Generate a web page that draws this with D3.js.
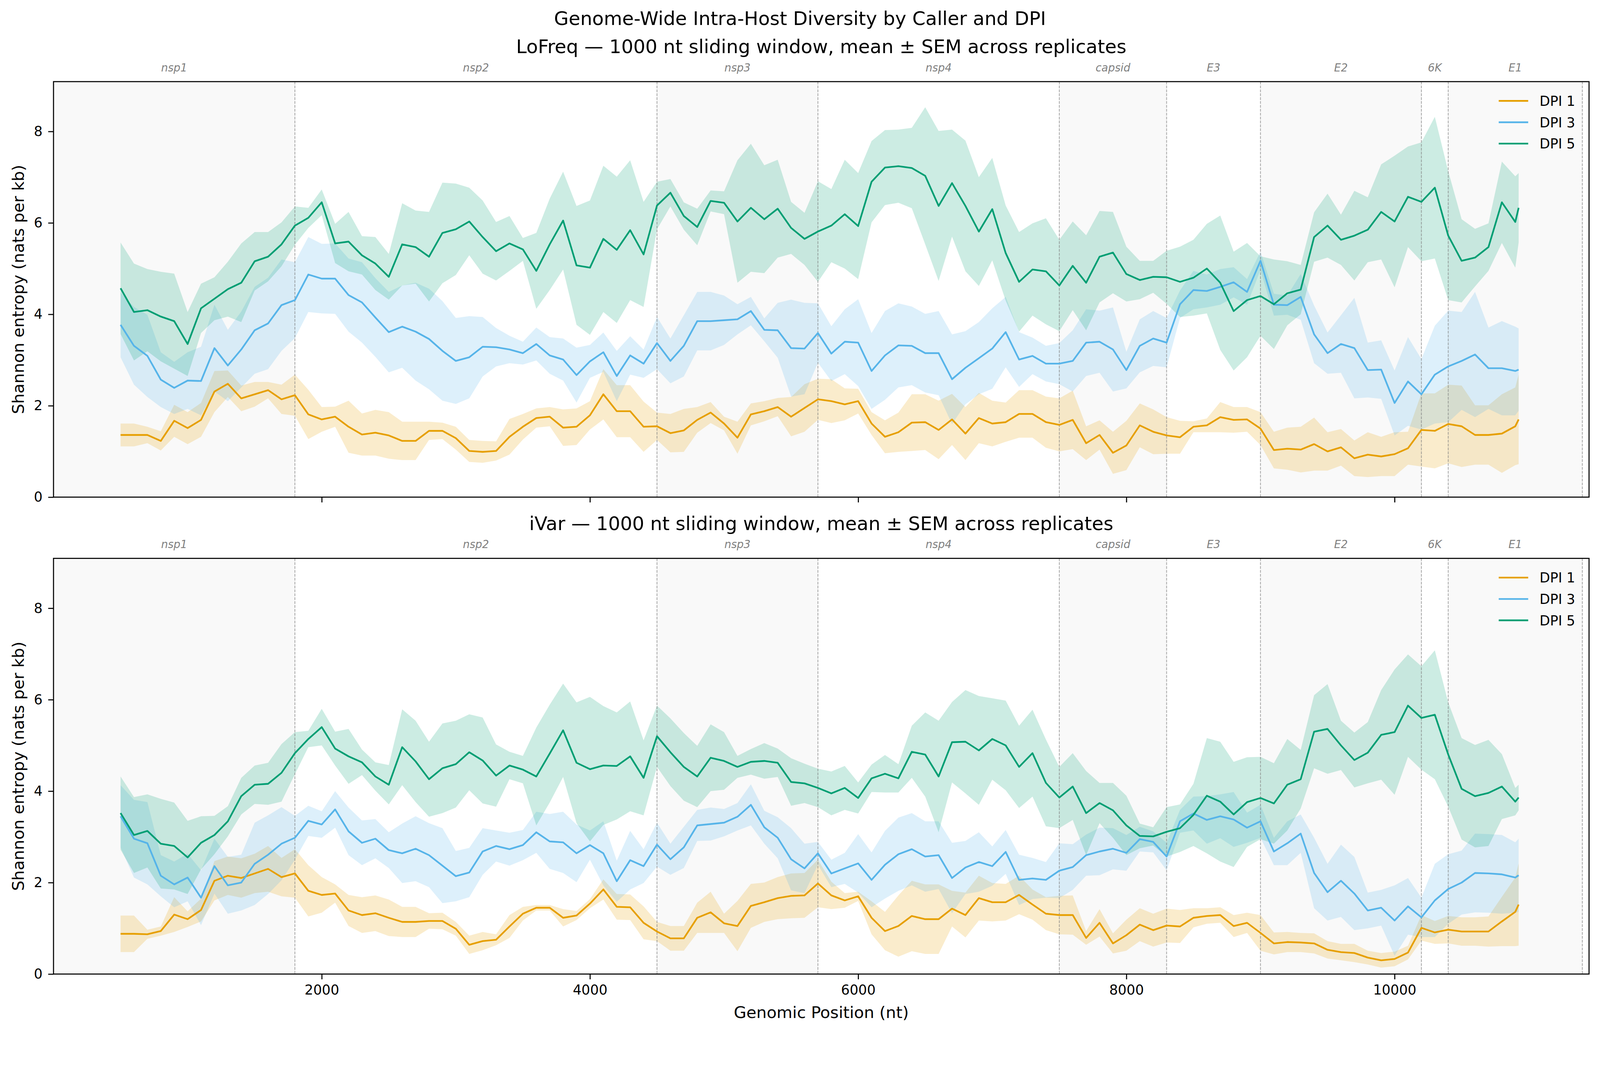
<!DOCTYPE html>
<html>
<head>
<meta charset="utf-8">
<title>Genome-Wide Intra-Host Diversity by Caller and DPI</title>
<script src="https://cdn.jsdelivr.net/npm/d3@7"></script>
<style>
  html, body { margin: 0; padding: 0; background: #ffffff; overflow: hidden; }
  svg { display: block; width: 100vw; height: 100vh; font-family: "DejaVu Sans", sans-serif; }
</style>
</head>
<body>
<div id="chart"></div>
<script>
// window centres along the genome (nt)
var positions = d3.range(500, 10901, 100).concat([10925]);

var geneNames  = ["nsp1", "nsp2", "nsp3", "nsp4", "capsid", "E3", "E2", "6K", "E1"];
var geneStarts = [0, 1800, 4500, 5700, 7500, 8300, 9000, 10200, 10400];
var geneEnds   = [1800, 4500, 5700, 7500, 8300, 9000, 10200, 10400, 11400];
var genomeLength = 11450;

var dpiLabels = ["DPI 1", "DPI 3", "DPI 5"];
var dpiColors = ["#E69F00", "#56B4E9", "#009E73"];

var xTicks = [2000, 4000, 6000, 8000, 10000];
var yTicks = [0, 2, 4, 6, 8];
var yMax = 9.09;

// LoFreq, mean entropy per window
var lofreqDpi1 = [1.36,1.36,1.36,1.23,1.67,1.51,1.69,2.31,2.48,2.16,
  2.25,2.34,2.14,2.23,1.81,1.7,1.76,1.54,1.37,1.41,
  1.35,1.23,1.23,1.45,1.45,1.29,1.01,0.99,1.01,1.32,
  1.54,1.73,1.76,1.52,1.54,1.79,2.25,1.88,1.88,1.54,
  1.55,1.4,1.46,1.69,1.85,1.61,1.3,1.81,1.88,1.97,
  1.76,1.95,2.14,2.1,2.03,2.1,1.61,1.32,1.42,1.63,
  1.64,1.47,1.7,1.39,1.73,1.61,1.64,1.82,1.82,1.64,
  1.58,1.69,1.18,1.36,0.97,1.13,1.57,1.43,1.35,1.31,
  1.54,1.57,1.75,1.69,1.7,1.5,1.03,1.06,1.04,1.16,
  1.0,1.09,0.85,0.93,0.89,0.94,1.07,1.47,1.45,1.6,
  1.55,1.36,1.36,1.39,1.55,1.7];
var lofreqDpi1Sem = [0.25,0.25,0.18,0.21,0.35,0.35,0.37,0.45,0.29,0.28,
  0.27,0.18,0.32,0.45,0.54,0.27,0.22,0.57,0.46,0.5,
  0.51,0.42,0.42,0.2,0.18,0.25,0.24,0.24,0.21,0.39,
  0.28,0.21,0.21,0.4,0.4,0.31,0.55,0.57,0.57,0.55,
  0.3,0.42,0.47,0.28,0.23,0.15,0.35,0.24,0.22,0.2,
  0.43,0.52,0.45,0.48,0.35,0.27,0.25,0.36,0.43,0.62,
  0.61,0.64,0.56,0.58,0.55,0.5,0.43,0.52,0.52,0.56,
  0.58,0.64,0.37,0.32,0.46,0.54,0.48,0.49,0.4,0.36,
  0.12,0.15,0.33,0.28,0.27,0.36,0.4,0.46,0.5,0.58,
  0.42,0.4,0.39,0.49,0.43,0.48,0.36,0.8,0.82,0.86,
  0.89,0.65,0.65,0.86,0.85,0.98];
var lofreqDpi3 = [3.77,3.31,3.09,2.57,2.39,2.55,2.54,3.26,2.88,3.23,
  3.65,3.8,4.2,4.31,4.87,4.78,4.78,4.42,4.26,3.93,
  3.61,3.73,3.62,3.46,3.2,2.98,3.06,3.29,3.28,3.23,
  3.15,3.35,3.1,3.01,2.67,2.97,3.17,2.65,3.1,2.92,
  3.37,2.98,3.31,3.85,3.85,3.87,3.89,4.07,3.66,3.65,
  3.26,3.25,3.59,3.14,3.4,3.38,2.76,3.1,3.32,3.31,
  3.15,3.15,2.58,2.83,3.04,3.25,3.61,3.01,3.09,2.92,
  2.92,2.98,3.38,3.4,3.23,2.78,3.31,3.47,3.38,4.22,
  4.53,4.51,4.6,4.7,4.49,5.17,4.21,4.2,4.38,3.56,
  3.15,3.35,3.26,2.78,2.79,2.06,2.53,2.25,2.68,2.86,
  2.98,3.12,2.82,2.82,2.76,2.79];
var lofreqDpi3Sem = [0.71,0.85,0.9,0.6,0.57,0.62,0.75,0.95,0.78,0.83,
  0.95,1.0,1.0,0.83,0.82,0.76,0.77,0.8,0.88,0.86,
  0.88,0.9,1.07,1.1,1.09,0.94,0.9,0.65,0.42,0.3,
  0.25,0.36,0.4,0.46,0.6,0.36,0.43,0.55,0.42,0.31,
  0.57,0.49,0.67,0.64,0.64,0.54,0.33,0.31,0.25,0.6,
  1.06,1.0,0.65,0.6,0.71,0.95,0.83,0.97,0.92,0.86,
  0.86,0.92,0.98,0.8,0.79,0.88,0.77,0.6,0.4,0.39,
  0.45,0.67,0.73,0.68,0.92,0.4,0.58,0.6,0.54,0.3,
  0.42,0.36,0.39,0.33,0.28,0.2,0.24,0.21,0.5,0.63,
  0.45,0.63,1.1,0.6,0.64,0.71,0.97,0.77,1.07,1.22,
  1.07,1.37,0.89,1.03,0.97,0.9];
var lofreqDpi5 = [4.57,4.05,4.09,3.95,3.85,3.35,4.13,4.34,4.55,4.69,
  5.16,5.26,5.53,5.94,6.11,6.45,5.55,5.59,5.29,5.11,
  4.82,5.53,5.47,5.26,5.78,5.86,6.03,5.69,5.38,5.55,
  5.42,4.95,5.53,6.05,5.07,5.02,5.65,5.41,5.84,5.31,
  6.38,6.66,6.15,5.91,6.48,6.44,6.03,6.33,6.08,6.31,
  5.89,5.65,5.81,5.94,6.19,5.93,6.9,7.21,7.24,7.2,
  7.03,6.37,6.87,6.37,5.81,6.3,5.34,4.71,4.98,4.94,
  4.63,5.06,4.69,5.26,5.35,4.88,4.75,4.82,4.81,4.71,
  4.8,5.0,4.69,4.07,4.31,4.4,4.22,4.46,4.54,5.69,
  5.94,5.63,5.72,5.85,6.24,6.03,6.57,6.46,6.77,5.72,
  5.17,5.24,5.47,6.45,6.02,6.33];
var lofreqDpi5Sem = [1.0,1.06,0.9,0.98,1.04,0.7,0.54,0.47,0.6,0.86,
  0.64,0.54,0.48,0.42,0.22,0.28,0.43,0.65,0.42,0.58,
  0.5,0.9,0.8,0.98,1.1,1.0,0.74,0.8,0.64,0.6,
  0.25,0.83,1.0,1.07,1.3,1.47,1.6,1.6,1.53,1.15,
  0.52,0.3,0.3,0.4,0.23,0.25,1.34,1.4,1.18,1.07,
  0.57,0.57,1.1,0.8,1.19,1.16,0.89,0.82,0.8,0.88,
  1.5,1.64,1.17,1.43,1.19,1.12,1.04,1.09,1.01,1.16,
  1.0,0.97,1.04,1.0,0.89,0.6,0.42,0.35,0.58,0.77,
  0.83,0.98,1.47,1.3,1.25,0.87,0.98,0.7,0.54,0.54,
  0.7,0.55,0.98,0.71,1.04,1.44,1.1,1.3,1.55,1.41,
  0.91,0.63,0.52,0.89,1.0,0.76];

// iVar, mean entropy per window
var ivarDpi1 = [0.88,0.88,0.87,0.94,1.3,1.2,1.4,2.04,2.15,2.1,
  2.2,2.3,2.12,2.2,1.82,1.73,1.76,1.39,1.29,1.33,
  1.23,1.14,1.14,1.16,1.16,0.99,0.64,0.72,0.75,1.04,
  1.32,1.45,1.45,1.23,1.28,1.54,1.85,1.47,1.46,1.12,
  0.93,0.78,0.78,1.23,1.35,1.11,1.05,1.49,1.57,1.66,
  1.71,1.72,1.98,1.72,1.61,1.7,1.23,0.94,1.05,1.27,
  1.2,1.2,1.43,1.29,1.66,1.57,1.57,1.73,1.52,1.32,
  1.29,1.29,0.79,1.12,0.67,0.85,1.08,0.96,1.06,1.04,
  1.23,1.27,1.29,1.05,1.12,0.9,0.67,0.7,0.69,0.67,
  0.53,0.48,0.46,0.36,0.3,0.33,0.47,1.01,0.91,0.97,
  0.93,0.93,0.93,1.15,1.36,1.52];
var ivarDpi1Sem = [0.4,0.4,0.1,0.1,0.38,0.17,0.25,0.43,0.42,0.43,
  0.43,0.5,0.42,0.53,0.56,0.39,0.2,0.34,0.39,0.39,
  0.4,0.33,0.33,0.17,0.18,0.15,0.2,0.2,0.12,0.25,
  0.15,0.06,0.06,0.19,0.1,0.1,0.22,0.28,0.28,0.36,
  0.21,0.27,0.27,0.33,0.45,0.21,0.55,0.48,0.43,0.46,
  0.49,0.49,0.52,0.3,0.16,0.1,0.36,0.42,0.67,0.77,
  0.76,0.76,0.39,0.49,0.49,0.42,0.4,0.42,0.33,0.36,
  0.42,0.43,0.15,0.3,0.22,0.34,0.36,0.36,0.37,0.36,
  0.21,0.17,0.17,0.24,0.22,0.39,0.24,0.22,0.21,0.22,
  0.19,0.18,0.2,0.15,0.16,0.16,0.15,0.28,0.25,0.3,
  0.31,0.31,0.33,0.54,0.75,0.9];
var ivarDpi3 = [3.45,2.96,2.86,2.15,1.96,2.11,1.67,2.36,1.94,2.0,
  2.41,2.61,2.85,2.98,3.35,3.27,3.6,3.12,2.87,2.96,
  2.71,2.64,2.74,2.6,2.37,2.14,2.22,2.68,2.8,2.73,
  2.82,3.1,2.9,2.88,2.64,2.82,2.64,2.03,2.49,2.36,
  2.83,2.51,2.77,3.25,3.28,3.31,3.44,3.7,3.21,2.98,
  2.51,2.31,2.64,2.2,2.31,2.42,2.06,2.39,2.62,2.73,
  2.57,2.6,2.1,2.33,2.45,2.36,2.67,2.06,2.09,2.06,
  2.26,2.34,2.6,2.68,2.74,2.65,2.95,2.89,2.57,3.34,
  3.51,3.37,3.45,3.38,3.2,3.34,2.68,2.86,3.07,2.21,
  1.79,2.04,1.76,1.39,1.45,1.17,1.48,1.24,1.61,1.86,
  2.0,2.21,2.2,2.18,2.11,2.16];
var ivarDpi3Sem = [0.68,0.85,0.9,0.45,0.5,0.52,0.6,0.6,0.62,0.61,
  0.9,0.86,0.8,0.48,0.33,0.29,0.4,0.52,0.49,0.43,
  0.39,0.65,0.71,0.7,0.82,0.55,0.54,0.51,0.34,0.36,
  0.33,0.45,0.6,0.67,0.63,0.32,0.7,0.45,0.64,0.37,
  0.48,0.34,0.45,0.34,0.36,0.3,0.3,0.45,0.36,0.45,
  0.68,0.54,0.25,0.3,0.34,0.64,0.6,0.74,0.8,0.79,
  0.77,0.74,0.77,0.58,0.65,0.43,0.48,0.55,0.45,0.39,
  0.6,0.5,0.45,0.52,0.45,0.39,0.27,0.23,0.3,0.25,
  0.37,0.52,0.48,0.6,0.33,0.36,0.3,0.48,0.42,0.77,
  0.62,0.79,0.8,0.39,0.39,0.77,0.62,0.43,0.8,0.76,
  0.7,0.86,0.86,0.86,0.77,0.8];
var ivarDpi5 = [3.52,3.04,3.13,2.85,2.8,2.55,2.87,3.04,3.34,3.89,
  4.14,4.16,4.4,4.83,5.14,5.4,4.93,4.76,4.63,4.32,
  4.14,4.96,4.65,4.26,4.5,4.59,4.85,4.67,4.34,4.56,
  4.47,4.32,4.82,5.33,4.62,4.48,4.56,4.55,4.76,4.29,
  5.2,4.85,4.53,4.32,4.73,4.66,4.53,4.64,4.66,4.62,
  4.2,4.17,4.07,3.95,4.07,3.85,4.28,4.38,4.28,4.86,
  4.8,4.32,5.07,5.08,4.89,5.14,5.0,4.53,4.83,4.18,
  3.86,4.1,3.52,3.74,3.58,3.25,3.02,3.01,3.11,3.19,
  3.48,3.9,3.77,3.49,3.76,3.85,3.73,4.14,4.26,5.3,
  5.36,5.0,4.68,4.84,5.23,5.29,5.87,5.6,5.67,4.8,
  4.05,3.89,3.96,4.1,3.77,3.86];
var ivarDpi5Sem = [0.8,0.83,0.8,0.98,0.95,0.8,0.58,0.42,0.33,0.4,
  0.42,0.46,0.63,0.46,0.18,0.4,0.37,0.6,0.28,0.31,
  0.43,0.83,0.89,0.82,0.98,0.95,0.83,0.94,0.68,0.3,
  0.3,1.07,1.07,1.02,1.32,1.58,1.3,1.17,1.2,0.82,
  0.67,0.74,0.74,0.67,0.73,0.63,0.24,0.28,0.39,0.31,
  0.52,0.43,0.42,0.48,0.48,0.34,0.3,0.41,0.31,0.57,
  0.92,1.22,0.88,1.13,1.19,0.89,0.98,0.9,0.95,0.95,
  0.67,0.73,0.92,0.44,0.6,0.65,0.27,0.2,0.54,0.52,
  0.68,1.26,1.31,1.15,0.98,0.9,0.88,1.0,0.64,0.8,
  0.98,0.54,0.6,0.67,0.98,1.37,1.12,1.13,1.41,1.14,
  1.11,1.12,1.16,0.71,0.3,0.28];

var width = 4234, height = 2734;
var axLeft = 141.6, axRight = 4205;
var tickLen = 14, tickPad = 15;

var panels = [
  {title: "LoFreq \u2014 1000 nt sliding window, mean \u00b1 SEM across replicates",
   top: 216, bottom: 1315.5, showXLabels: false,
   means: [lofreqDpi1, lofreqDpi3, lofreqDpi5],
   sems: [lofreqDpi1Sem, lofreqDpi3Sem, lofreqDpi5Sem]},
  {title: "iVar \u2014 1000 nt sliding window, mean \u00b1 SEM across replicates",
   top: 1477.5, bottom: 2577.5, showXLabels: true,
   means: [ivarDpi1, ivarDpi3, ivarDpi5],
   sems: [ivarDpi1Sem, ivarDpi3Sem, ivarDpi5Sem]}
];

// laid out in a 4234x2734 box, scaled to the window width and pinned to the top
var svg = d3.select("#chart").append("svg")
  .attr("viewBox", "0 0 " + width + " " + height)
  .attr("preserveAspectRatio", "xMidYMin meet");

svg.append("rect").attr("width", width).attr("height", height).attr("fill", "#ffffff");

svg.append("text")
  .attr("x", width / 2)
  .attr("y", 66)
  .attr("text-anchor", "middle")
  .attr("font-size", 50)
  .attr("fill", "#000")
  .text("Genome-Wide Intra-Host Diversity by Caller and DPI");

var x = d3.scaleLinear().domain([0, genomeLength]).range([axLeft, axRight]);

panels.forEach(function(p, pi) { drawPanel(p, pi); });

svg.append("text")
  .attr("x", (axLeft + axRight) / 2)
  .attr("y", 2694)
  .attr("text-anchor", "middle")
  .attr("font-size", 43)
  .attr("fill", "#000")
  .text("Genomic Position (nt)");

function drawPanel(p, pi) {
  var y = d3.scaleLinear().domain([0, yMax]).range([p.bottom, p.top]);
  var g = svg.append("g").attr("class", "panel" + pi);

  var clipId = "plotclip" + pi;
  g.append("clipPath").attr("id", clipId).append("rect")
    .attr("x", axLeft).attr("y", p.top)
    .attr("width", axRight - axLeft).attr("height", p.bottom - p.top);
  var plot = g.append("g").attr("clip-path", "url(#" + clipId + ")");

  // alternating gene shading
  var shaded = geneNames.map(function(d, i) { return i; }).filter(function(i) { return i % 2 == 0; });
  plot.selectAll(".genespan").data(shaded).enter().append("rect")
    .attr("class", "genespan")
    .attr("x", function(i) { return x(geneStarts[i]); })
    .attr("width", function(i) { return x(geneEnds[i]) - x(geneStarts[i]); })
    .attr("y", p.top)
    .attr("height", p.bottom - p.top)
    .attr("fill", "#f9f9f9");

  // SEM bands
  p.means.forEach(function(mean, k) {
    var sem = p.sems[k];
    var area = d3.area()
      .x(function(d, i) { return x(positions[i]); })
      .y0(function(d, i) { return y(mean[i] - sem[i]); })
      .y1(function(d, i) { return y(mean[i] + sem[i]); });
    plot.append("path")
      .datum(mean)
      .attr("d", area)
      .attr("fill", dpiColors[k])
      .attr("fill-opacity", 0.2)
      .attr("stroke", "none");
  });

  // gene boundaries
  plot.selectAll(".geneline").data(geneEnds).enter().append("line")
    .attr("class", "geneline")
    .attr("x1", function(d) { return x(d); })
    .attr("x2", function(d) { return x(d); })
    .attr("y1", p.top)
    .attr("y2", p.bottom)
    .attr("stroke", "#808080")
    .attr("stroke-opacity", 0.65)
    .attr("stroke-width", 2.2)
    .attr("stroke-dasharray", "7.3,3");

  // mean lines
  p.means.forEach(function(mean, k) {
    var line = d3.line()
      .x(function(d, i) { return x(positions[i]); })
      .y(function(d) { return y(d); });
    plot.append("path")
      .datum(mean)
      .attr("d", line)
      .attr("fill", "none")
      .attr("stroke", dpiColors[k])
      .attr("stroke-width", 4.5)
      .attr("stroke-linejoin", "round");
  });

  // axes
  var xAxis = d3.axisBottom(x).tickValues(xTicks).tickSize(tickLen).tickPadding(tickPad);
  xAxis.tickFormat(p.showXLabels ? d3.format("d") : "");
  var gx = g.append("g").attr("transform", "translate(0," + p.bottom + ")").call(xAxis);
  styleAxis(gx);

  var yAxis = d3.axisLeft(y).tickValues(yTicks).tickSize(tickLen).tickPadding(tickPad).tickFormat(d3.format("d"));
  var gy = g.append("g").attr("transform", "translate(" + axLeft + ",0)").call(yAxis);
  styleAxis(gy);

  // frame
  g.append("rect")
    .attr("x", axLeft).attr("y", p.top)
    .attr("width", axRight - axLeft).attr("height", p.bottom - p.top)
    .attr("fill", "none")
    .attr("stroke", "#000")
    .attr("stroke-width", 2.8);

  // y label
  g.append("text")
    .attr("transform", "translate(48," + ((p.top + p.bottom) / 2) + ") rotate(-90)")
    .attr("text-anchor", "middle")
    .attr("dy", "0.35em")
    .attr("font-size", 43)
    .attr("fill", "#000")
    .text("Shannon entropy (nats per kb)");

  // panel title
  g.append("text")
    .attr("x", (axLeft + axRight) / 2)
    .attr("y", p.top - 75)
    .attr("text-anchor", "middle")
    .attr("font-size", 50)
    .attr("fill", "#000")
    .text(p.title);

  // gene names above the frame
  g.selectAll(".genelabel").data(geneNames).enter().append("text")
    .attr("class", "genelabel")
    .attr("x", function(d, i) { return x((geneStarts[i] + geneEnds[i]) / 2); })
    .attr("y", p.top - 27)
    .attr("text-anchor", "middle")
    .attr("font-size", 28.5)
    .attr("font-style", "italic")
    .attr("fill", "#7f7f7f")
    .text(function(d) { return d; });

  // legend
  var leg = g.append("g").attr("transform", "translate(3966," + (p.top + 51) + ")");
  var rows = leg.selectAll(".legrow").data(dpiLabels).enter().append("g")
    .attr("class", "legrow")
    .attr("transform", function(d, i) { return "translate(0," + (i * 56.5) + ")"; });
  rows.append("line")
    .attr("x1", 0).attr("x2", 78)
    .attr("y1", 0).attr("y2", 0)
    .attr("stroke", function(d, i) { return dpiColors[i]; })
    .attr("stroke-width", 4.5);
  rows.append("text")
    .attr("x", 108)
    .attr("dy", "0.36em")
    .attr("font-size", 36)
    .attr("fill", "#000")
    .text(function(d) { return d; });
}

function styleAxis(sel) {
  sel.attr("font-family", null).attr("font-size", null);
  sel.select(".domain").remove();
  sel.selectAll(".tick line").attr("stroke", "#000").attr("stroke-width", 2.8);
  sel.selectAll(".tick text").attr("font-size", 36).attr("fill", "#000");
}
</script>
</body>
</html>
